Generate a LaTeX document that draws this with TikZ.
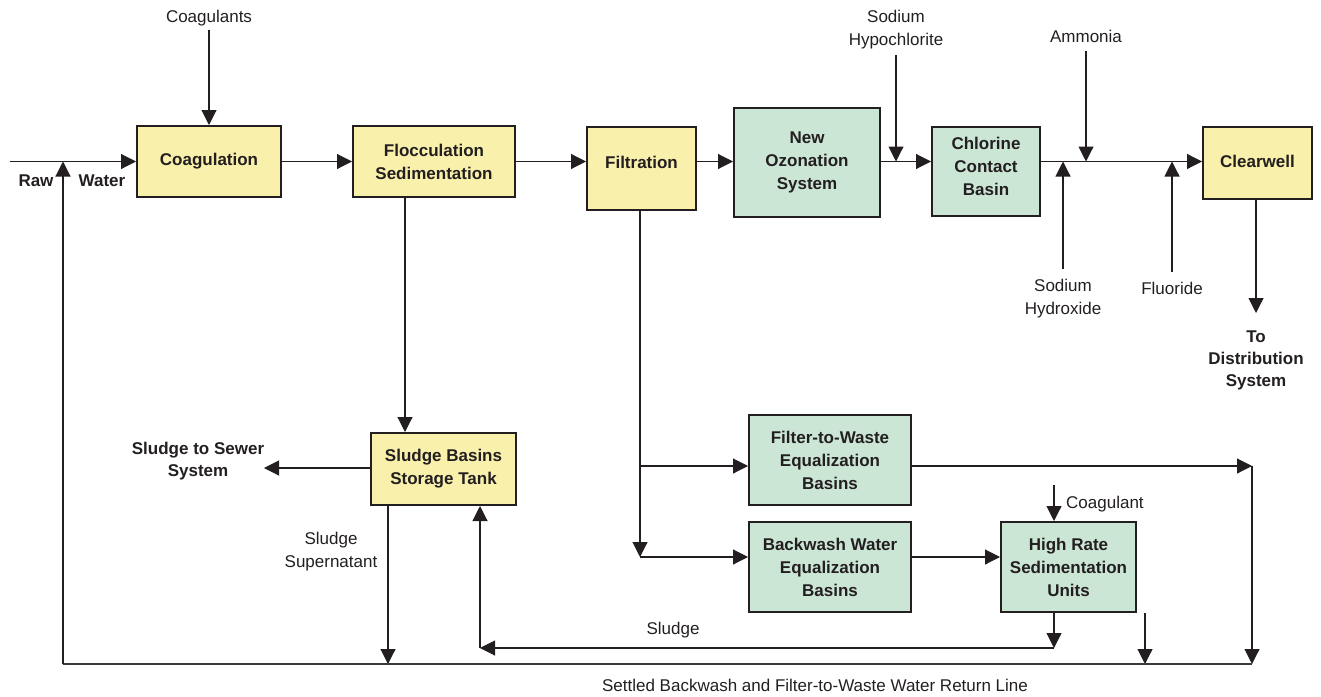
\documentclass[tikz,border=0pt]{standalone}
\usepackage{fontspec}
\setmainfont{Liberation Sans}
\usetikzlibrary{arrows.meta}
\definecolor{ink}{HTML}{231F20}
\definecolor{pipe}{HTML}{3A3A3A}
\definecolor{yellowfill}{HTML}{F9F0AC}
\definecolor{greenfill}{HTML}{CCE6D6}
\tikzset{
  every node/.style={text=ink, font=\fontsize{17}{23}\selectfont},
  unit/.style={draw=ink, line width=2pt, align=center, inner sep=2pt,
    font=\fontsize{17}{23}\selectfont\bfseries},
  ybox/.style={unit, fill=yellowfill},
  gbox/.style={unit, fill=greenfill},
  lbl/.style={inner sep=0pt, align=center},
  blbl/.style={lbl, font=\fontsize{17}{22}\selectfont\bfseries},
  flow/.style={draw=pipe, line width=1.1pt},
  arr/.style={flow, -{Triangle[length=15pt,width=15pt]}, ink},
}
% lift a box's text without changing the box itself
\newcommand{\lifttext}[2]{\raisebox{#1}[\height][\depth]{#2}}
\begin{document}
\begin{tikzpicture}[x=1pt, y=-1pt]
\useasboundingbox (0,0) rectangle (1321,696);

% process units
\node[ybox, minimum width=144pt, minimum height=71pt] (coag) at (209,161.5) {Coagulation};
\node[ybox, minimum width=162pt, minimum height=71pt] (floc) at (434,161.5) {Flocculation\\Sedimentation};
\node[ybox, minimum width=109pt, minimum height=83pt] (filt) at (641.5,168.5) {\lifttext{6.5pt}{Filtration}};
\node[gbox, minimum width=146pt, minimum height=109pt] (ozone) at (807,162.5) {New\\Ozonation\\System};
\node[gbox, minimum width=108pt, minimum height=89pt] (chlor) at (986,171.5)
  {\lifttext{3.5pt}{\begin{tabular}{@{}c@{}}Chlorine\\Contact\\Basin\end{tabular}}};
\node[ybox, minimum width=109pt, minimum height=72pt] (clear) at (1257.5,163) {\lifttext{1.5pt}{Clearwell}};
\node[ybox, minimum width=145pt, minimum height=72pt] (sludge) at (443.5,469) {Sludge Basins\\Storage Tank};
\node[gbox, minimum width=162pt, minimum height=90pt] (ftw) at (830,460) {Filter-to-Waste\\Equalization\\Basins};
\node[gbox, minimum width=162pt, minimum height=90pt] (bww) at (830,567) {Backwash Water\\Equalization\\Basins};
\node[gbox, minimum width=135pt, minimum height=90pt] (hrs) at (1068.5,567) {High Rate\\Sedimentation\\Units};

% labels
\node[lbl] (coagulants) at (209,18) {Coagulants};
\node[lbl] (hypo) at (896,29.5) {Sodium\\Hypochlorite};
\node[lbl] (amm) at (1086,36) {Ammonia};
\node[lbl] (naoh) at (1063,298.5) {Sodium\\Hydroxide};
\node[lbl] (fluor) at (1172,288) {Fluoride};
\node[blbl] (dist) at (1256,360) {To\\Distribution\\System};
\node[blbl] (sewer) at (198,461) {Sludge to Sewer\\System};
\node[lbl] (super) at (331,551.5) {Sludge\\Supernatant};
\node[lbl] (sludgelbl) at (673,630) {Sludge};
\node[lbl, anchor=west] (coagulant) at (1066,504) {Coagulant};
\node[blbl] (raw) at (36,181) {Raw};
\node[blbl] (water) at (102,181) {Water};
\node[lbl] (retlbl) at (815,685) {Settled Backwash and Filter-to-Waste Water Return Line};

% junction points
\coordinate (rawin) at (10,161.5);
\coordinate (m1) at (896,161.5);
\coordinate (m2) at (1086,161.5);
\coordinate (m3) at (1063,161.5);
\coordinate (m4) at (1172,161.5);
\coordinate (d1) at (1256,313);
\coordinate (sw) at (264,468);
\coordinate (r0) at (63,664);
\coordinate (rin) at (63,161.5);
\coordinate (r1) at (388,664);
\coordinate (r2) at (1145,664);
\coordinate (r3) at (1252,664);
\coordinate (e1) at (1252,466);
\coordinate (f1) at (640,466);
\coordinate (f2) at (640,557);
\coordinate (s1) at (1054,648);
\coordinate (s2) at (480,648);
\coordinate (cg) at (1054,485);
\coordinate (fd) at (405,0);

% main treatment train
\draw[arr] (rawin) -- (coag.west);
\draw[arr] (coag.east) -- (floc.west);
\draw[arr] (floc.east) -- (filt.west |- floc.east);
\draw[arr] (filt.east |- floc.east) -- (ozone.west |- floc.east);
\draw[arr] (ozone.east |- m1) -- (chlor.west |- m1);
\draw[arr] (chlor.east |- m2) -- (clear.west |- m2);
\draw[arr] (clear.south -| d1) -- (d1);

% chemical feeds
\draw[arr] ([yshift=-4pt]coagulants.south) -- (coag.north);
\draw[arr] ([yshift=-6pt]hypo.south) -- (m1);
\draw[arr] ([yshift=-9pt]amm.south) -- (m2);
\draw[arr] ([yshift=10pt]naoh.north) -- (m3);
\draw[arr] ([yshift=10pt]fluor.north) -- (m4);
\draw[arr] (cg) -- (hrs.north -| cg);

% solids handling
\draw[arr] (floc.south -| fd) -- (sludge.north -| fd);
\draw[arr] (sludge.west |- sw) -- (sw);
\draw[arr] (sludge.south -| r1) -- (r1);

% filter waste streams
\draw[arr] (filt.south -| f1) -- (f2);
\draw[arr] (f1) -- (ftw.west |- f1);
\draw[arr] (f2) -- (bww.west |- f2);
\draw[arr] (bww.east |- f2) -- (hrs.west |- f2);
\draw[arr] (ftw.east |- e1) -- (e1);
\draw[arr] (e1) -- (r3);
\draw[arr] (hrs.south -| r2) -- (r2);

% sludge back to storage
\draw[arr] (hrs.south -| s1) -- (s1);
\draw[arr] (s1) -- (s2);
\draw[arr] (s2) -- (sludge.south -| s2);

% return line to the head of the plant
\draw[flow] (r0) -- (r3);
\draw[arr] (r0) -- (rin);
\end{tikzpicture}
\end{document}
